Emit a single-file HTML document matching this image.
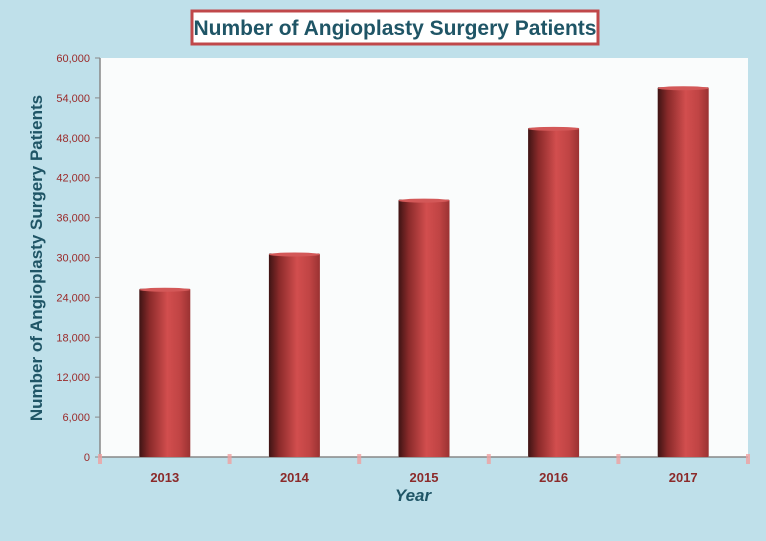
<!DOCTYPE html>
<html><head><meta charset="utf-8"><style>
body{margin:0;background:#bfe0ea;width:766px;height:536px;overflow:hidden;font-family:"Liberation Sans",sans-serif}
</style></head><body>
<svg width="766" height="536">
<defs>
<linearGradient id="bg" x1="0" x2="1" y1="0" y2="0">
<stop offset="0" stop-color="#3e1414"/><stop offset="0.2" stop-color="#8a2a2a"/><stop offset="0.55" stop-color="#d24e4e"/><stop offset="0.8" stop-color="#c04444"/><stop offset="1" stop-color="#9a3232"/>
</linearGradient>
</defs>
<rect x="192" y="11" width="406" height="33" fill="#fff" stroke="#c0484a" stroke-width="3"/>
<text x="395" y="35" text-anchor="middle" font-size="21" font-weight="bold" fill="#1f5566">Number of Angioplasty Surgery Patients</text>
<rect x="100" y="58" width="648" height="399" fill="#fafcfc"/>
<g id="ax"></g><g id="bars"></g>
<text x="413" y="501" text-anchor="middle" font-size="17" font-weight="bold" font-style="italic" fill="#1f5566">Year</text>
<text transform="translate(42,258) rotate(-90)" text-anchor="middle" font-size="17" font-weight="bold" fill="#1f5566">Number of Angioplasty Surgery Patients</text>
</svg>
<script>
const categories=["2013","2014","2015","2016","2017"];
const values=[25300,30600,38700,49500,55600];
const ticks=[0,6000,12000,18000,24000,30000,36000,42000,48000,54000,60000];
const ns="http://www.w3.org/2000/svg";
const x0=100,x1=748,y0=457,y1=58,ymax=60000;
const y=v=>y0-(v/ymax)*(y0-y1);
const bw=(x1-x0)/categories.length;
const ax=document.getElementById('ax'),bars=document.getElementById('bars');
function mk(t,a,p){const e=document.createElementNS(ns,t);for(const k in a)e.setAttribute(k,a[k]);p.appendChild(e);return e;}
const yl=mk('line',{x1:x0,x2:x0,y1:y1,y2:y0,stroke:'#888','stroke-width':1.5},ax);


const xl=mk('line',{x1:x0,x2:x1,y1:y0,y2:y0,stroke:'#888','stroke-width':1.5},ax);


ticks.forEach(t=>{
 mk('line',{x1:x0-5,x2:x0,y1:y(t),y2:y(t),stroke:'#888'},ax);
 const tx=mk('text',{x:x0-10,y:y(t)+4,'text-anchor':'end','font-size':11,fill:'#9b2a2a'},ax);
 tx.textContent=t.toLocaleString('en-US');
 
 
});
for(let i=0;i<=categories.length;i++){
 mk('rect',{x:x0+i*bw-2,y:y0-3,width:4,height:10,fill:'#f0a0a0',opacity:0.8},ax);
}
categories.forEach((c,i)=>{
 const cx=x0+bw*(i+0.5),w=51;
 const r=mk('rect',{x:cx-w/2,y:y(values[i]),width:w,height:y0-y(values[i]),fill:'url(#bg)',rx:1},bars);
 
 
 mk('ellipse',{cx:cx,cy:y(values[i])+1,rx:w/2,ry:2,fill:'#d35858'},bars);
 const t=mk('text',{x:cx,y:482,'text-anchor':'middle','font-size':13,'font-weight':'bold',fill:'#8b2a2a'},ax);
 t.textContent=c;
 
 
});
</script>
</body></html>
